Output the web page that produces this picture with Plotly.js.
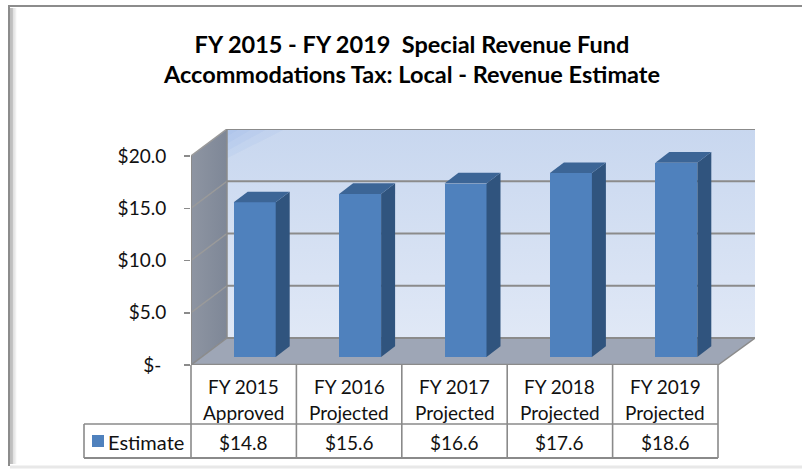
<!DOCTYPE html>
<html><head><meta charset="utf-8">
<script src="https://cdn.plot.ly/plotly-3.0.1.min.js"></script>
<style>html,body{margin:0;padding:0;background:#fff;overflow:hidden}#c{width:802px;height:469px}</style>
</head><body><div id="c"></div>
<script>
const line1 = ['FY 2015','FY 2016','FY 2017','FY 2018','FY 2019'];
const line2 = ['Approved','Projected','Projected','Projected','Projected'];
const estimate = [14.8,15.6,16.6,17.6,18.6];
const tableLabels = ['$14.8','$15.6','$16.6','$17.6','$18.6'];
const yTicks = [0,5,10,15,20];
const yTickLabels = ['$-\u00a0','$5.0','$10.0','$15.0','$20.0'];
const seriesName = 'Estimate';

const W=802,H=469;
const L=191,R=755,T=129,B=365;
const catW=105.4, unit=10.45;
const xMin=-0.5, xMax=xMin+(R-L)/catW, yMax=(B-T)/unit;
const depthX=36/catW, depthY=27/unit;
const idx=estimate.map((_,i)=>i);
const barW=42/catW, barOff=11/catW, barBase=8/unit;
const bdx=14/catW, bdy=10.7/unit;
const grid='#8b8b8b';
const px=v=>(v-L)/(R-L), py=v=>(B-v)/(B-T);

const traces=[];
function poly(xs,ys,fill,grad,top){
  const t={type:'scatter',mode:'lines',x:[...xs,xs[0]],y:[...ys,ys[0]],fill:'toself',
    line:{width:0},hoverinfo:'skip',showlegend:false};
  if(fill) t.fillcolor=fill;
  if(grad) t.fillgradient=grad;
  if(top){t.xaxis='x2';t.yaxis='y2';}
  traces.push(t);
}
function seg(xs,ys,w,c){traces.push({type:'scatter',mode:'lines',cliponaxis:false,x:xs,y:ys,line:{width:w,color:c||grid},hoverinfo:'skip',showlegend:false});}
const fx=xMin, bx=xMin+depthX, rfx=xMin+line1.length, rbx=xMax;
// back wall
poly([bx,rbx,rbx,bx],[depthY,depthY,yMax,yMax],null,{type:'vertical',colorscale:[[0,'#e0e8f6'],[1,'#c8d7ef']]});
// corner sheen at top-left of the wall
[[0.12,0.7],[0.24,1.4],[0.38,2.1],[0.55,2.8]].forEach(s=>poly([bx,bx+s[0],bx],[yMax,yMax,yMax-s[1]],'rgba(150,180,228,0.13)'));
// left wall
poly([fx,bx,bx,fx],[0,depthY,yMax,20],null,{type:'horizontal',colorscale:[[0,'#8e95a2'],[1,'#7e8797']]});
// floor
poly([fx,rfx,rbx,bx],[0,0,depthY,depthY],'#9ea6b6');
// grid lines
yTicks.slice(1).forEach(v=>{
  seg([fx,bx],[v,v+depthY],1.5,'#9a9a9a');
  seg([bx,rbx],[v+depthY,v+depthY],2);
});
seg([bx,rbx],[depthY,depthY],2);
seg([bx,bx],[depthY,yMax],1.5);
seg([fx,bx],[0,depthY],1.5);
seg([rfx,rbx],[0,depthY],1.5);
seg([fx,fx],[0,20],2);
seg([fx,rfx],[0,0],2.5);
// bars sit on an overlay subplot so they draw above the walls
traces.push({type:'bar',name:seriesName,xaxis:'x2',yaxis:'y2',x:idx.map(i=>i+barOff),y:estimate,base:barBase,width:barW,
  marker:{color:'#4f81bd',line:{width:0}},showlegend:false,hoverinfo:'y'});
estimate.forEach((v,i)=>{
  const a=i+barOff-barW/2,b=a+barW,t=barBase+v;
  poly([b,b+bdx,b+bdx,b],[barBase,barBase+bdy,t+bdy,t],'#30547e',null,true);
  poly([a,b,b+bdx,a+bdx],[t,t,t+bdy,t+bdy],'#3c6596',null,true);
});

const shapes=[];
const pl=(x0,y0,x1,y1,w,c)=>shapes.push({type:'line',xref:'paper',yref:'paper',x0:px(x0),x1:px(x1),y0:py(y0),y1:py(y1),line:{width:w,color:c},layer:'above'});
// table
const tc='#8a8a8a';
for(let i=0;i<=line1.length;i++){const x=L+catW*i;pl(x,365,x,458,1.6,tc);}
pl(84,424,L+catW*5,424,1.6,tc);
pl(84,458,L+catW*5,458,2,tc);
pl(84,424,84,458,1.6,tc);
// legend key
shapes.push({type:'rect',xref:'paper',yref:'paper',x0:px(92),x1:px(104),y0:py(435),y1:py(447),fillcolor:'#4f81bd',line:{width:0}});
// frame
pl(8,6,802,6,2,'#8c8c8c');
pl(9,6,9,466,2,'#8c8c8c');
[['#a8a8a8',11],['#c4c4c4',12.5],['#dedede',14],['#f0f0f0',15.5]].forEach(a=>pl(a[1],8,a[1],464,1.5,a[0]));
pl(10,467,802,467,3,'#e8e8e8');

const font='Lato, sans-serif', tcol='#111', fs=19;
const ann=[];
const a=(x,y,text,size,xref,xanchor)=>ann.push({xref:xref||'x',yref:'paper',x,y:py(y),text,showarrow:false,xanchor:xanchor||'center',yanchor:'middle',font:{family:font,size:size||fs,color:tcol}});
line1.forEach((s,i)=>{
  a(i,386,s); a(i,412,line2[i]); a(i,442,tableLabels[i]);
});
a(px(106),442,seriesName,20,'paper','left');

const ax={showgrid:false,zeroline:false,showline:false,fixedrange:true};
Plotly.newPlot('c',traces,{
  width:W,height:H,paper_bgcolor:'#fff',plot_bgcolor:'rgba(0,0,0,0)',showlegend:false,
  margin:{l:L,r:W-R,t:T,b:H-B,pad:0},
  title:{text:'<b>FY 2015 - FY 2019  Special Revenue Fund<br>Accommodations Tax: Local - Revenue Estimate</b>',
    font:{family:font,size:23.5,color:'#000'},x:412/W,xanchor:'center',y:1-52.5/H,yanchor:'middle'},
  xaxis:{...ax,range:[xMin,xMax],showticklabels:false,ticks:''},
  yaxis:{...ax,range:[0,yMax],tickvals:yTicks,ticktext:yTickLabels,
    ticks:'outside',ticklen:6,tickwidth:1.5,tickcolor:grid,ticklabelstandoff:14,tickfont:{family:font,size:fs,color:tcol}},
  xaxis2:{...ax,range:[xMin,xMax],overlaying:'x',showticklabels:false,ticks:''},
  yaxis2:{...ax,range:[0,yMax],overlaying:'y',showticklabels:false,ticks:''},
  shapes:shapes,annotations:ann,bargap:0
},{displayModeBar:false,staticPlot:true});
</script></body></html>
